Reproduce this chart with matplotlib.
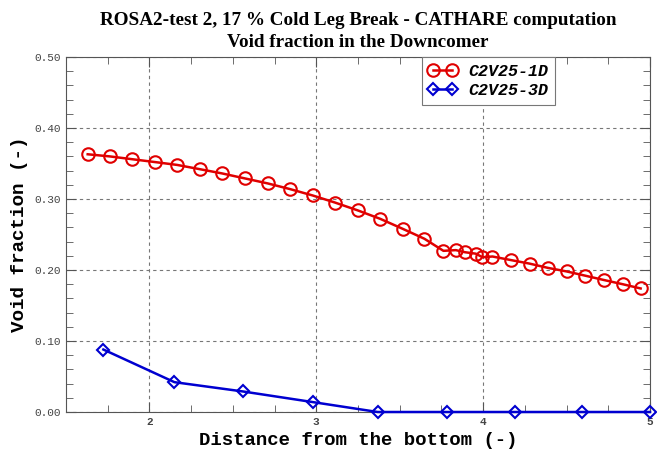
import numpy as np
import matplotlib.pyplot as plt
from matplotlib.ticker import MultipleLocator, FormatStrFormatter

# data
x_1d = [1.630, 1.762, 1.898, 2.034, 2.166, 2.302, 2.436, 2.572, 2.708, 2.842,
        2.978, 3.112, 3.248, 3.384, 3.518, 3.648, 3.762, 3.836, 3.892, 3.956,
        3.996, 4.056, 4.166, 4.278, 4.388, 4.500, 4.612, 4.722, 4.836, 4.944]
y_1d = [0.363, 0.360, 0.356, 0.352, 0.348, 0.342, 0.336, 0.329, 0.322, 0.314,
        0.305, 0.295, 0.284, 0.272, 0.258, 0.244, 0.227, 0.228, 0.225, 0.223,
        0.218, 0.219, 0.214, 0.209, 0.203, 0.198, 0.192, 0.186, 0.180, 0.174]

x_3d = [1.724, 2.150, 2.558, 2.978, 3.368, 3.782, 4.190, 4.592, 5.000]
y_3d = [0.088, 0.042, 0.029, 0.014, 0.0, 0.0, 0.0, 0.0, 0.0]

fig = plt.figure(figsize=(6.57, 4.51), dpi=100)
ax = fig.add_axes([66 / 657, 1 - 412 / 451, 584 / 657, 355 / 451])

ax.plot(x_1d, y_1d, color='#e00000', lw=1.8, marker='o', ms=9,
        mfc='none', mew=1.5, label='C2V25-1D')
ax.plot(x_3d, y_3d, color='#0000d0', lw=1.8, marker='D', ms=6,
        mfc='none', mew=1.5, label='C2V25-3D', clip_on=False, zorder=5)

ax.set_xlim(1.5, 5.0)
ax.set_ylim(0.0, 0.5)
ax.set_xticks([2, 3, 4, 5])
ax.xaxis.set_minor_locator(MultipleLocator(0.25))
ax.yaxis.set_major_locator(MultipleLocator(0.1))
ax.yaxis.set_minor_locator(MultipleLocator(0.02))
ax.yaxis.set_major_formatter(FormatStrFormatter('%.2f'))

ax.tick_params(which='both', direction='in', top=True, right=True,
               color='#555555')
ax.tick_params(which='major', length=7, labelsize=8, labelcolor='#444444')
ax.tick_params(which='minor', length=5)
for lab in ax.get_xticklabels() + ax.get_yticklabels():
    lab.set_family('Liberation Mono')
for lab in ax.get_xticklabels():
    lab.set_weight('bold')
for s in ax.spines.values():
    s.set_color('#555555')

ax.grid(True, which='major', ls=(0, (3, 3)), color='#777777', lw=0.8)

ax.set_xlabel('Distance from the bottom (-)', family='Liberation Mono',
              weight='bold', fontsize=13.7, labelpad=4)
ax.set_ylabel('Void fraction (-)', family='Liberation Mono',
              weight='bold', fontsize=13.9, labelpad=5)

fig.text(0.545, 0.955, 'ROSA2-test 2, 17 % Cold Leg Break - CATHARE computation',
         ha='center', va='center', family='Liberation Serif', weight='bold',
         fontsize=13.8)
fig.text(0.545, 0.905, 'Void fraction in the Downcomer', ha='center',
         va='center', family='Liberation Serif', weight='bold', fontsize=13.8)

leg = ax.legend(loc='upper left', bbox_to_anchor=(0.609, 1.0), numpoints=2,
                prop={'family': 'Liberation Mono', 'style': 'italic',
                      'weight': 'bold', 'size': 12},
                fancybox=False, framealpha=1, edgecolor='#777777',
                handlelength=1.7, handletextpad=0.7, borderpad=0.4,
                borderaxespad=0.0, labelspacing=0.25)
leg.get_frame().set_linewidth(0.8)

plt.savefig('out.png', dpi=100)
